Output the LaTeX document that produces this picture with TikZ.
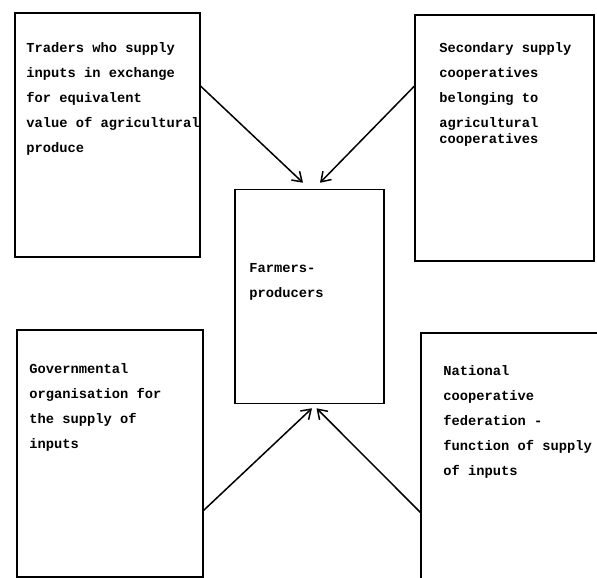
\documentclass[tikz,border=0pt]{standalone}
\usepackage{fontspec}
\setmonofont{Liberation Mono}
\usetikzlibrary{positioning, calc, arrows.meta}
\tikzset{
  box/.style={draw, line width=1.5bp, inner sep=0pt},
  boxtext/.style={anchor=north west, align=left, inner sep=0pt},
  supply/.style={line width=1.5bp, -{Straight Barb[length=9bp,width=12bp,line width=1.5bp]}}
}

\begin{document}
\begin{tikzpicture}[x=1bp, y=-1bp, font=\ttfamily\bfseries\fontsize{13.8}{25}\selectfont]
      \useasboundingbox (0,0) rectangle (597,578);

      \node[box, minimum width=185bp, minimum height=244bp,
            label={[boxtext, xshift=12bp, yshift=-30.5bp]north west:{Traders who supply\\inputs in exchange\\for equivalent\\value of agricultural\\produce}}]
            (traders) at (107.5,135) {};
      \node[box, minimum width=179bp, minimum height=246bp,
            label={[boxtext, xshift=25bp, yshift=-28.5bp]north west:{Secondary supply\\cooperatives\\belonging to\\agricultural\\[-9bp]cooperatives}}]
            (secondary) at (504.5,138) {};

      \node[box, minimum width=149bp, minimum height=214bp,
            label={[boxtext, xshift=15bp, yshift=-74.5bp]north west:{Farmers-\\producers}}]
            (farmers) at (309.5,296.5) {};

      \node[box, minimum width=186bp, minimum height=247bp,
            label={[boxtext, xshift=13bp, yshift=-34.5bp]north west:{Governmental\\organisation for\\the supply of\\inputs}}]
            (government) at (110,453.5) {};
      \node[box, minimum width=219bp, minimum height=287bp,
            label={[boxtext, xshift=23bp, yshift=-33.5bp]north west:{National\\cooperative\\federation -\\function of supply\\of inputs}}]
            (national) at (530.5,476.5) {};

      \draw[supply] ($(traders.north east)+(0,74)$) -- ($(farmers.north)+(-6.5,-6)$);
      \draw[supply] ($(secondary.north west)+(0,72)$) -- ($(farmers.north)+(10.5,-6)$);
      \draw[supply] ($(government.north east)+(0,181)$) -- ($(farmers.south)+(2.5,4)$);
      \draw[supply] ($(national.north west)+(0,180)$) -- ($(farmers.south)+(7,4)$);
    \end{tikzpicture}
\end{document}
